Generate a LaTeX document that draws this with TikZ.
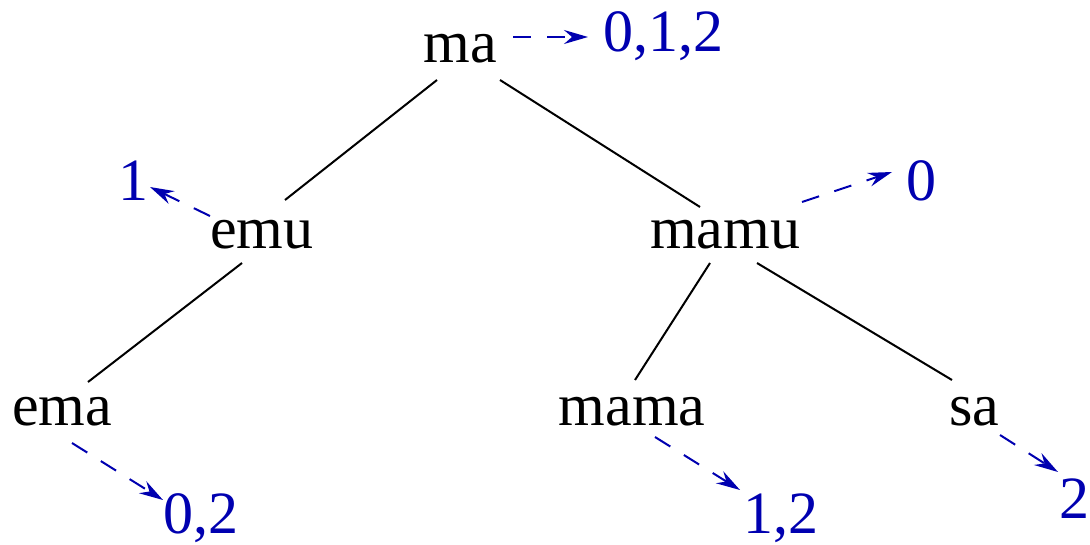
\documentclass[tikz,border=0pt]{standalone}
\usepackage{fontspec}
\setmainfont{Liberation Serif}
\newfontfamily\tms{Liberation Serif}
\usetikzlibrary{arrows.meta,calc}
\definecolor{lblue}{RGB}{0,0,176}
\begin{document}
\begin{tikzpicture}[x=0.5pt,y=-0.5pt,
  word/.style={anchor=base,inner sep=0pt,font=\tms\fontsize{30}{36}\selectfont},
  lab/.style={word,text=lblue},
  edge/.style={line width=1pt,black},
  ptr/.style={line width=1pt,lblue,dash pattern=on 9pt off 8pt,
    -{Stealth[length=12pt,width=7pt,inset=4pt]}}]
\useasboundingbox (0,0) rectangle (1090,545);
\node[word] (ma) at (460,63) {ma};
\node[word] (emu) at (262,248) {emu};
\node[word] (mamu) at (725,248) {mamu};
\node[word] (ema) at (62,425) {ema};
\node[word] (mama) at (632,425) {mama};
\node[word] (sa) at (974,425) {sa};
\node[lab] (l012) at (663,52) {0,1,2};
\node[lab] (l1) at (133,200) {1};
\node[lab] (l0) at (921,200) {0};
\node[lab] (l02) at (201,533) {0,2};
\node[lab] (l12) at (781,533) {1,2};
\node[lab] (l2) at (1074,518) {2};
\draw[edge] ($(ma.base)+(-23,17)$) -- ($(emu.base)+(23,-48)$);
\draw[edge] ($(ma.base)+(40,17)$) -- ($(mamu.base)+(-25,-41)$);
\draw[edge] ($(emu.base)+(-20,15)$) -- ($(ema.base)+(26,-43)$);
\draw[edge] ($(mamu.base)+(-15,15)$) -- ($(mama.base)+(3,-45)$);
\draw[edge] ($(mamu.base)+(32,15)$) -- ($(sa.base)+(-22,-45)$);
\draw[ptr] ($(ma.base)+(53,-26)$) -- ($(l012.base)+(-75,-15)$);
\draw[ptr] ($(emu.base)+(-52,-32)$) -- ($(l1.base)+(17,-13)$);
\draw[ptr] ($(mamu.base)+(77,-46)$) -- ($(l0.base)+(-29,-28)$);
\draw[ptr] ($(ema.base)+(10,18)$) -- ($(l02.base)+(-38,-33)$);
\draw[ptr] ($(mama.base)+(23,12)$) -- ($(l12.base)+(-41,-43)$);
\draw[ptr] ($(sa.base)+(26,10)$) -- ($(l2.base)+(-16,-46)$);
\end{tikzpicture}
\end{document}
